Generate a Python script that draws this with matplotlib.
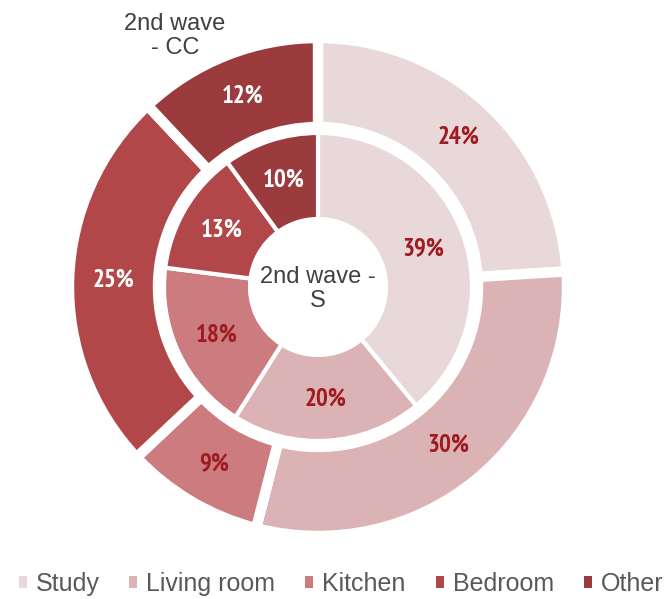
import matplotlib
matplotlib.use("Agg")
import matplotlib.pyplot as plt
import matplotlib.font_manager as fm
from matplotlib.patches import Patch
import numpy as np

categories = ["Study", "Living room", "Kitchen", "Bedroom", "Other"]
outer_vals = [24, 30, 9, 25, 12]   # 2nd wave - CC
inner_vals = [39, 20, 18, 13, 10]  # 2nd wave - S

colors = ["#e8d8da", "#dcb3b5", "#cc7b7e", "#b2474a", "#9b3b3d"]
label_colors = ["#9e1b22", "#9e1b22", "#9e1b22", "white", "white"]


# percentage labels use a narrow bold face in the original; pick the closest one installed
def narrow_rank(f):
    n = f.name + " " + f.fname
    if "Extra" in n or "Ultra" in n:
        return None
    if "Narrow" in n:
        return 0
    if "SemiCondensed" in n or "Semi Condensed" in n or f.stretch == "semi-condensed":
        return 2
    if "Condensed" in n or f.stretch == "condensed":
        return 1
    return None


cands = [(narrow_rank(f), f.fname) for f in fm.fontManager.ttflist
         if f.weight in (700, "bold") and narrow_rank(f) is not None and "Italic" not in f.fname]
if cands:
    pct_prop = fm.FontProperties(fname=sorted(cands)[0][1], size=18)
else:
    pct_prop = fm.FontProperties(family="Liberation Sans", weight="bold", size=14)

fig = plt.figure(figsize=(6.67, 5.99), dpi=100)
# pie centre at about (318, 287) px, outer radius ~244 px
R = 244.0
lim = 1.2
w = 2 * lim * R
ax = fig.add_axes([(318 - lim * R) / 667, (599 - 287 - lim * R) / 599, w / 667, w / 599])

# outer ring
wedges_o, _ = ax.pie(outer_vals, radius=1.0 + 5 / R, startangle=90, counterclock=False,
                     colors=colors, wedgeprops=dict(width=(244 - 165 + 10) / R, edgecolor="white", linewidth=7.5))
# inner ring
wedges_i, _ = ax.pie(inner_vals, radius=(152 + 2) / R, startangle=90, counterclock=False,
                     colors=colors, wedgeprops=dict(width=(152 - 70 + 4) / R, edgecolor="white", linewidth=3))

for wdg, v, c in zip(wedges_o, outer_vals, label_colors):
    a = np.deg2rad((wdg.theta1 + wdg.theta2) / 2)
    r = 205 / R
    ax.text(r * np.cos(a), r * np.sin(a), f"{v}%", ha="center", va="center", color=c, fontproperties=pct_prop)
for wdg, v, c in zip(wedges_i, inner_vals, label_colors):
    a = np.deg2rad((wdg.theta1 + wdg.theta2) / 2)
    r = 112 / R
    ax.text(r * np.cos(a), r * np.sin(a), f"{v}%", ha="center", va="center", color=c, fontproperties=pct_prop)

ax.text(0, (287 - 289) / R, "2nd wave -\nS", ha="center", va="center", fontsize=17, color="#404040",
        family=["Liberation Sans", "DejaVu Sans"], linespacing=1.15)
ax.text((175 - 318) / R, (287 - 36) / R, "2nd wave\n- CC", ha="center", va="center", fontsize=17,
        color="#404040", family=["Liberation Sans", "DejaVu Sans"], linespacing=1.15)

ax.set_xlim(-lim, lim)
ax.set_ylim(-lim, lim)
ax.set_aspect("equal")
ax.axis("off")

handles = [Patch(facecolor=c, edgecolor="none") for c in colors]
fig.legend(handles, categories, loc="center", bbox_to_anchor=(341 / 667, 1 - 584 / 599), ncol=5,
           frameon=False, handlelength=0.32, handleheight=0.32, handletextpad=0.36, columnspacing=1.2,
           borderpad=0, prop=dict(family=["Liberation Sans", "DejaVu Sans"], size=18), labelcolor="#595959")

fig.savefig("out.png", dpi=100)
